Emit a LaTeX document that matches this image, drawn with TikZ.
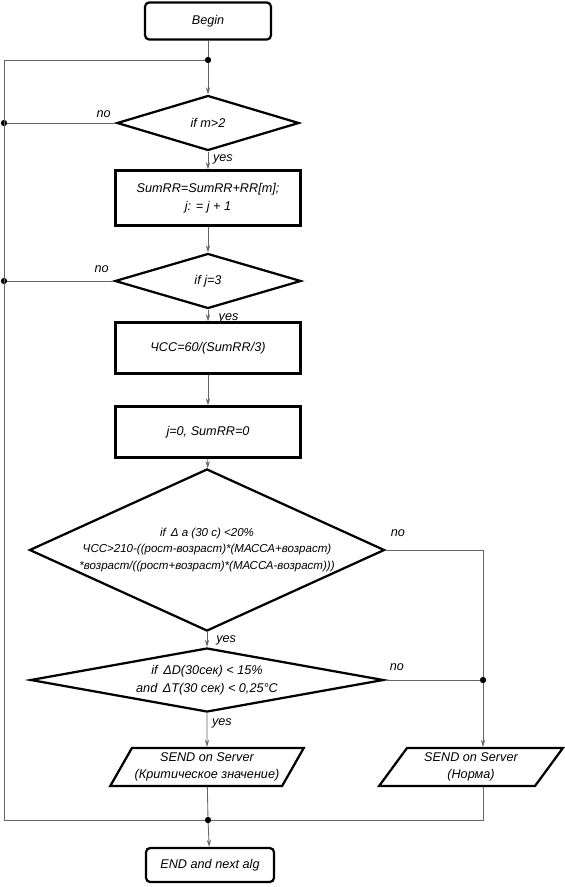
\documentclass[tikz,border=0pt]{standalone}
\usepackage{fontspec}
\setmainfont{Liberation Sans}
\usepackage{tikz}
\usetikzlibrary{arrows.meta,calc,positioning,shapes.geometric}
\definecolor{flowline}{RGB}{100,100,100}

\begin{document}
\begin{tikzpicture}[x=0.025cm,y=-0.025cm,
    font=\fontsize{9}{12.5}\selectfont\itshape,
    blk/.style={draw,line width=1.6pt,align=center,inner sep=2pt},
    procbox/.style={blk,minimum width=4.625cm,minimum height=1.275cm},
    termbox/.style={blk,rounded corners=3pt,minimum width=3.15cm,minimum height=0.925cm},
    decision/.style={blk,diamond,inner sep=0pt},
    iobox/.style={blk,trapezium,trapezium left angle=58,trapezium right angle=122,
      trapezium stretches=true,minimum width=4.6cm,minimum height=0.95cm},
    flow/.style={draw=flowline,line width=0.6pt},
    arr/.style={flow,-{Stealth[length=5pt,width=3pt]}},
    dot/.style={circle,fill=black,inner sep=0pt,minimum size=4.5pt}]
    \useasboundingbox (0,0) rectangle (565,887);

    % blocks
    \node[termbox] (begin) at (208,21) {Begin};
    \node[decision,aspect=3.3,minimum width=4.55cm,minimum height=1.375cm] (m2) at (208,123) {if m>2};
    \node[procbox,minimum height=1.375cm] (sum) at (208,198) {SumRR=SumRR+RR[m];\\ j: = j + 1};
    \node[decision,aspect=3.4,minimum width=4.65cm,minimum height=1.375cm] (j3) at (208,281) {if j=3};
    \node[procbox] (hr) at (208,348) {ЧСС=60/(SumRR/3)};
    \node[procbox] (reset) at (208,432) {j=0, SumRR=0};
    \node[decision,aspect=2.19,minimum width=8.875cm,minimum height=4.05cm,
      font=\fontsize{8.2}{11.5}\selectfont\itshape] (grow) at (207,550)
      {if \,Δ a (30 с) <20\%\\
       ЧСС>210-((рост-возраст)*(МАССА+возраст)\\
       *возраст/((рост+возраст)*(МАССА-возраст)))};
    \node[decision,aspect=5.5,minimum width=8.825cm,minimum height=1.6cm] (dtemp) at (207,680)
      {if \,ΔD(30сек) < 15\%\\ and \,ΔT(30 сек) < 0,25°C};
    \node[iobox] (crit) at (207,767) {SEND on Server\\(Критическое значение)};
    \node[iobox] (norm) at (471,767) {SEND on Server\\(Норма)};
    \node[termbox,minimum width=3.2cm,minimum height=0.85cm] (end) at (210,865) {END and next alg};

    % junctions
    \coordinate (jtop) at (208,60);
    \coordinate (jright) at (483,680);
    \coordinate (jbot) at (208,820);
    \coordinate (rail) at (4,820);

    % main flow
    \draw[flow] (begin) -- (jtop);
    \draw[arr] (jtop) -- (m2);
    \draw[arr] (m2) -- node[right,pos=0.45]{yes} (sum);
    \draw[arr] (sum) -- (j3);
    \draw[arr] (j3) -- node[right,pos=0.75,xshift=4pt]{yes} (hr);
    \draw[arr] (hr) -- (reset);
    \draw[arr] (reset) -- (grow);
    \draw[arr] (grow) -- node[right,pos=0.55,xshift=3pt]{yes} (dtemp);
    \draw[arr] (dtemp) -- node[right,pos=0.3]{yes} (crit);
    \draw[flow] (crit) -- (jbot);
    \draw[arr] (jbot) -- (end);

    % no branches
    \draw[flow] (m2.west) -- node[at start,above left]{no} (m2.west -| rail) node[dot]{};
    \draw[flow] (j3.west) -- node[at start,above left,yshift=2pt]{no} (j3.west -| rail) node[dot]{};
    \draw[flow] (grow.east) -- node[at start,above right,yshift=6pt]{no} (grow.east -| jright) -- (jright);
    \draw[flow] (dtemp.east) -- node[at start,above right,yshift=3pt]{no} (jright);
    \draw[arr] (jright) -- (jright |- norm.north);
    \draw[flow] (norm.south -| jright) -- (jright |- jbot) -- (jbot);

    % loop back rail
    \draw[flow] (jbot) -- (rail) -- (rail |- jtop) -- (jtop);

    \node[dot] at (jtop) {};
    \node[dot] at (jright) {};
    \node[dot] at (jbot) {};
  \end{tikzpicture}
\end{document}
